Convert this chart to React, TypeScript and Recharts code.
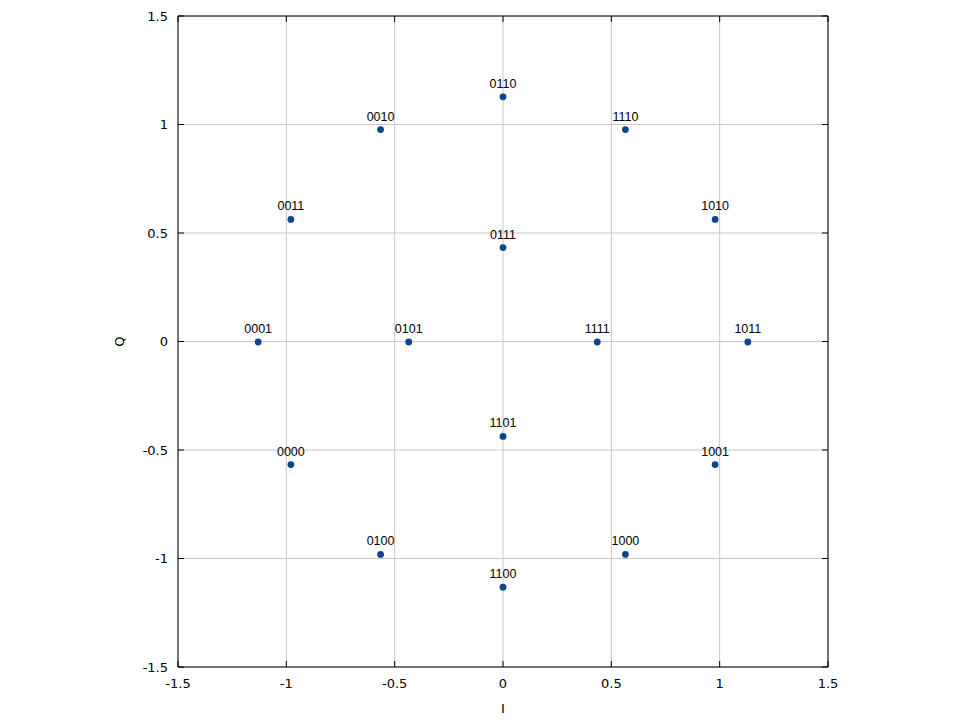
import { ScatterChart, Scatter, XAxis, YAxis, CartesianGrid, ReferenceLine, Label } from "recharts";

// 16 constellation symbols (bit label, I, Q)
const symbolLabels = [
  "0110", "0010", "1110", "0011", "1010", "0111", "0001", "0101",
  "1111", "1011", "1101", "0000", "1001", "0100", "1000", "1100",
];
const iValues = [
  0, -0.565, 0.565, -0.979, 0.979, 0, -1.13, -0.435,
  0.435, 1.13, 0, -0.979, 0.979, -0.565, 0.565, 0,
];
const qValues = [
  1.13, 0.979, 0.979, 0.565, 0.565, 0.435, 0, 0,
  0, 0, -0.435, -0.565, -0.565, -0.979, -0.979, -1.13,
];
const axisTicks = [-1.5, -1, -0.5, 0, 0.5, 1, 1.5];

const points = symbolLabels.map((label, i) => ({ label, i: iValues[i], q: qValues[i] }));

const W = 960;
const H = 720;
const LEFT = 178;
const RIGHT = 132;
const TOP = 16;
const BOTTOM = 53;
const PLOT_W = W - LEFT - RIGHT;
const PLOT_H = H - TOP - BOTTOM;

const tickFont = "Verdana, 'DejaVu Sans', sans-serif";
const pointColor = "#0a4689";

const XTick = (props: any) => {
  const { x, y, payload } = props;
  return (
    <g>
      <line x1={x} x2={x} y1={y} y2={y - 6} stroke="#000" />
      <line x1={x} x2={x} y1={y - PLOT_H} y2={y - PLOT_H + 6} stroke="#000" />
      <text x={x} y={y + 21} textAnchor="middle" fontSize={13} fontFamily={tickFont} fill="#000">
        {String(payload.value)}
      </text>
    </g>
  );
};

const YTick = (props: any) => {
  const { x, y, payload } = props;
  return (
    <g>
      <line x1={x} x2={x + 6} y1={y} y2={y} stroke="#000" />
      <line x1={x + PLOT_W} x2={x + PLOT_W - 6} y1={y} y2={y} stroke="#000" />
      <text x={x - 10} y={y} dy="0.35em" textAnchor="end" fontSize={13} fontFamily={tickFont} fill="#000">
        {String(payload.value)}
      </text>
    </g>
  );
};

const PointShape = (props: any) => {
  const { cx, cy, payload } = props;
  return (
    <g>
      <circle cx={cx} cy={cy + 0.5} r={3.4} fill={pointColor} />
      <text
        x={cx}
        y={cy - 8.5}
        textAnchor="middle"
        fontSize={12.5}
        fontFamily="'Liberation Sans', Arial, sans-serif"
        fill="#000"
      >
        {payload.label}
      </text>
    </g>
  );
};

const ILabel = (props: any) => {
  const { viewBox } = props;
  const x = viewBox.x + viewBox.width / 2;
  const y = viewBox.y + 46;
  return (
    <text x={x} y={y} textAnchor="middle" fontSize={13} fontFamily={tickFont} fill="#000">
      I
    </text>
  );
};

const QLabel = (props: any) => {
  const { viewBox } = props;
  const x = viewBox.x + 119;
  const y = viewBox.y + viewBox.height / 2;
  return (
    <text
      x={x}
      y={y}
      transform={`rotate(-90 ${x} ${y})`}
      textAnchor="middle"
      dy="0.35em"
      fontSize={13}
      fontFamily={tickFont}
      fill="#000"
    >
      Q
    </text>
  );
};

export default function App() {
  return (
    <div style={{ position: "absolute", left: 0, top: 0, width: W, height: H, background: "#fff" }}>
      <ScatterChart width={W} height={H} margin={{ top: TOP, right: RIGHT, bottom: 0, left: 0 }}>
        <CartesianGrid stroke="#c8c8c8" strokeDasharray="" />
        <XAxis
          type="number"
          dataKey="i"
          domain={[-1.5, 1.5]}
          ticks={axisTicks}
          height={BOTTOM}
          tickSize={0}
          tickMargin={0}
          tickLine={false}
          axisLine={{ stroke: "#000" }}
          tick={XTick}
          allowDataOverflow
        >
          <Label content={ILabel} />
        </XAxis>
        <YAxis
          type="number"
          dataKey="q"
          domain={[-1.5, 1.5]}
          ticks={axisTicks}
          width={LEFT}
          tickSize={0}
          tickMargin={0}
          tickLine={false}
          axisLine={{ stroke: "#000" }}
          tick={YTick}
          allowDataOverflow
        >
          <Label content={QLabel} />
        </YAxis>
        <ReferenceLine y={1.5} stroke="#000" />
        <ReferenceLine x={1.5} stroke="#000" />
        <Scatter data={points} shape={PointShape} isAnimationActive={false} />
      </ScatterChart>
    </div>
  );
}
